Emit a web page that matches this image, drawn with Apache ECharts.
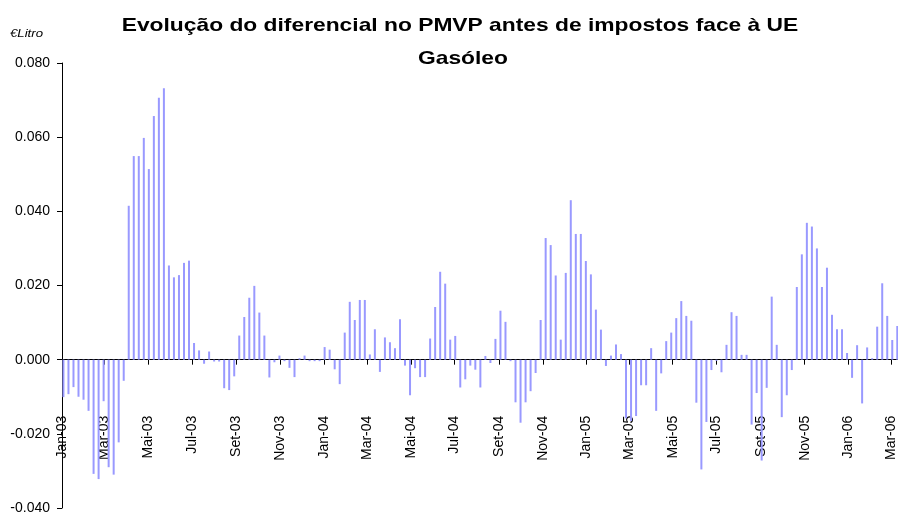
<!DOCTYPE html>
<html>
<head>
<meta charset="utf-8">
<script src="https://cdn.jsdelivr.net/npm/echarts@6/dist/echarts.min.js"></script>
<style>
  html, body { margin: 0; padding: 0; background: #fff; }
  #main { width: 898px; height: 513px; }
</style>
</head>
<body>
<div id="main"></div>
<script>
// semanas (sextas-feiras) a partir desta data
var firstWeek = '2003-01-03';

// diferencial semanal, €/litro
var values2003 = [
	-0.0101, -0.0093, -0.0074, -0.0100, -0.0108, -0.0138, -0.0308, -0.0322, -0.0112, -0.0290,
	-0.0310, -0.0223, -0.0057, 0.0415, 0.0549, 0.0549, 0.0598, 0.0514, 0.0657, 0.0706,
	0.0732, 0.0254, 0.0222, 0.0228, 0.0261, 0.0267, 0.0045, 0.0025, -0.0011, 0.0022,
	-0.0005, -0.0005, -0.0077, -0.0082, -0.0045, 0.0065, 0.0115, 0.0167, 0.0199, 0.0127,
	0.0065, -0.0048, -0.0007, 0.0011, -0.0004, -0.0022, -0.0047, 0.0004, 0.0011, -0.0004,
	-0.0004, -0.0004
];
var values2004 = [
	0.0034, 0.0027, -0.0026, -0.0066, 0.0073, 0.0156, 0.0107, 0.0161, 0.0161, 0.0014,
	0.0082, -0.0033, 0.0060, 0.0047, 0.0031, 0.0109, -0.0016, -0.0096, -0.0023, -0.0047,
	-0.0047, 0.0057, 0.0142, 0.0237, 0.0205, 0.0054, 0.0064, -0.0075, -0.0053, -0.0016,
	-0.0027, -0.0075, 0.0010, -0.0009, 0.0056, 0.0132, 0.0102, -0.0004, -0.0115, -0.0170,
	-0.0115, -0.0085, -0.0036, 0.0107, 0.0328, 0.0309, 0.0227, 0.0054, 0.0234, 0.0430,
	0.0339, 0.0339, 0.0266
];
var values2005 = [
	0.0230, 0.0135, 0.0081, -0.0017, 0.0011, 0.0041, 0.0015, -0.0158, -0.0165, -0.0152,
	-0.0069, -0.0069, 0.0031, -0.0138, -0.0037, 0.0050, 0.0073, 0.0112, 0.0158, 0.0118,
	0.0105, -0.0116, -0.0296, -0.0168, -0.0028, -0.0003, -0.0034, 0.0040, 0.0128, 0.0118,
	0.0013, 0.0013, -0.0175, -0.0090, -0.0272, -0.0076, 0.0170, 0.0040, -0.0155, -0.0096,
	-0.0028, 0.0196, 0.0284, 0.0369, 0.0359, 0.0300, 0.0196, 0.0248, 0.0121, 0.0082,
	0.0082, 0.0018
];
var values2006 = [
	-0.0049, 0.0039, -0.0118, 0.0033, 0.0004, 0.0089, 0.0206, 0.0118, 0.0053, 0.0091
];

// etiquetas do eixo (de 2 em 2 meses)
var tickLabels = ['Jan-03', 'Mar-03', 'Mai-03', 'Jul-03', 'Set-03', 'Nov-03',
	'Jan-04', 'Mar-04', 'Mai-04', 'Jul-04', 'Set-04', 'Nov-04',
	'Jan-05', 'Mar-05', 'Mai-05', 'Jul-05', 'Set-05', 'Nov-05',
	'Jan-06', 'Mar-06'];
var tickDates = ['2003-01-01', '2003-03-01', '2003-05-01', '2003-07-01', '2003-09-01', '2003-11-01',
	'2004-01-01', '2004-03-01', '2004-05-01', '2004-07-01', '2004-09-01', '2004-11-01',
	'2005-01-01', '2005-03-01', '2005-05-01', '2005-07-01', '2005-09-01', '2005-11-01',
	'2006-01-01', '2006-03-01'];

var values = values2003.concat(values2004, values2005, values2006);

/**
 * dias desde 1 de Janeiro de 2003
 */
function dayOf(s) {
	var p = s.split('-');
	return Math.round((Date.UTC(+p[0], +p[1] - 1, +p[2]) - Date.UTC(2003, 0, 1)) / 86400000);
}

var startDay = dayOf(firstWeek);
var seriesData = values.map(function(v, i) {
	return [startDay + 7 * i, v];
});
var tickDays = tickDates.map(dayOf);

function labelFor(v) {
	for (var k = 0; k < tickDays.length; k++) {
		if (Math.abs(tickDays[k] - v) < 0.5) {
			return tickLabels[k];
		}
	}
	return '';
}

// escala vertical
var yMin = -0.04, yMax = 0.08;
var gridTop = 63, gridBottom = 5, chartH = 513;
// o eixo X fica na linha do zero: desloca-o a partir do fundo da grelha
var plotH = chartH - gridTop - gridBottom;
var zeroOffset = -plotH * (0 - yMin) / (yMax - yMin);

var myChart = echarts.init(document.getElementById('main'));
var font = 'Liberation Sans, Arial, sans-serif';

var option = {
	animation : false,
	backgroundColor : '#fff',
	graphic : [ {
		type : 'text',
		x : 460,
		y : 25.5,
		scaleX : 1.2,
		style : {
			text : 'Evolução do diferencial no PMVP antes de impostos face à UE',
			font : 'bold 19px ' + font,
			fill : '#000',
			align : 'center',
			verticalAlign : 'middle'
		}
	}, {
		type : 'text',
		x : 463,
		y : 59,
		scaleX : 1.2,
		style : {
			text : 'Gasóleo',
			font : 'bold 19px ' + font,
			fill : '#000',
			align : 'center',
			verticalAlign : 'middle'
		}
	}, {
		type : 'text',
		x : 10,
		y : 34,
		scaleX : 1.2,
		style : {
			text : '€Litro',
			font : 'italic 11px ' + font,
			fill : '#000',
			align : 'left',
			verticalAlign : 'middle'
		}
	} ],
	grid : {
		left : 62,
		right : 0,
		top : gridTop,
		bottom : gridBottom,
		containLabel : false,
		outerBoundsMode : 'none'
	},
	xAxis : {
		type : 'value',
		min : 0,
		max : 1165,
		offset : zeroOffset,
		splitLine : { show : false },
		axisLine : { onZero : false, lineStyle : { color : '#000', width : 1 } },
		axisTick : { show : true, length : 5, customValues : tickDays, lineStyle : { color : '#000' } },
		axisLabel : {
			customValues : tickDays,
			rotate : 90,
			margin : 56,
			fontFamily : font,
			fontSize : 14,
			color : '#000',
			formatter : labelFor
		}
	},
	yAxis : {
		type : 'value',
		min : yMin,
		max : yMax,
		interval : 0.02,
		splitLine : { show : false },
		axisLine : { show : true, onZero : false, lineStyle : { color : '#000', width : 1 } },
		axisTick : { show : true, length : 5, lineStyle : { color : '#000' } },
		axisLabel : {
			margin : 12,
			fontFamily : font,
			fontSize : 14,
			color : '#000',
			formatter : function(v) {
				return v.toFixed(3);
			}
		}
	},
	series : [ {
		type : 'bar',
		data : seriesData,
		barWidth : 2,
		clip : false,
		itemStyle : { color : '#9999ff' }
	} ]
};
myChart.setOption(option);
</script>
</body>
</html>
